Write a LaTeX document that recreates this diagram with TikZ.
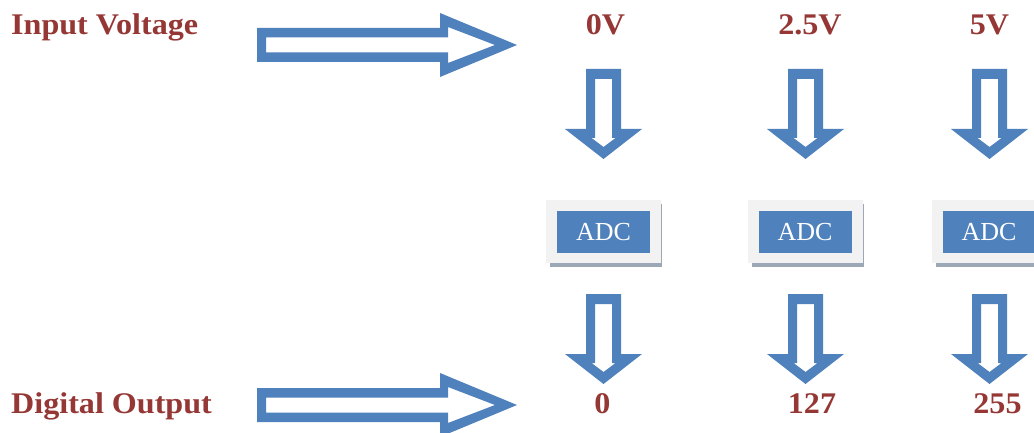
\documentclass[tikz,border=0pt]{standalone}
\usepackage{fontspec}
\setmainfont{Liberation Serif}
\newfontfamily\labelfont[FakeStretch=1.07]{Liberation Serif}
\definecolor{arrowblue}{HTML}{4F81BD}
\definecolor{labelred}{HTML}{953735}
\definecolor{framegray}{HTML}{F2F2F2}
\definecolor{shadowgray}{HTML}{9DA8B7}
\tikzset{
  label text/.style={text=labelred, font=\labelfont\fontsize{30}{36}\selectfont\bfseries, inner sep=0pt, anchor=base},
  adc frame/.style={fill=framegray, draw=none, minimum width=115pt, minimum height=63pt, inner sep=0pt},
  adc box/.style={fill=arrowblue, draw=none, text=white, minimum width=93pt, minimum height=42pt, inner sep=0pt, font=\fontsize{26}{30}\selectfont},
  % hollow block arrow pointing down, origin at the top centre of the shaft
  down arrow/.pic={
    \fill[arrowblue, even odd rule]
      (-17.5,0) -- (17.5,0) -- (17.5,60) -- (38.5,60) -- (0,90) -- (-38.5,60) -- (-17.5,60) -- cycle
      (-8.5,10) -- (8.5,10) -- (8.5,69) -- (12,69) -- (0,78) -- (-12,69) -- (-8.5,69) -- cycle;
  },
  % hollow block arrow pointing right, origin at the left centre of the shaft
  right arrow/.pic={
    \fill[arrowblue, even odd rule]
      (0,-17) -- (183,-17) -- (183,-32) -- (260,0) -- (183,32) -- (183,17) -- (0,17) -- cycle
      (9,-7.5) -- (191,-7.5) -- (191,-18) -- (238,0) -- (191,18) -- (191,7.5) -- (9,7.5) -- cycle;
  },
}
\begin{document}
\begin{tikzpicture}[x=1pt, y=-1pt]
  \useasboundingbox (0,0) rectangle (1034,433);
  \fill[white] (0,0) rectangle (1034,433);

  % row labels
  \node[label text, anchor=base west] (inlabel) at (11,35) {Input Voltage};
  \node[label text, anchor=base west] (outlabel) at (11,413) {Digital Output};

  % large arrows pointing at the value rows
  \pic at (257,45) {right arrow};
  \pic at (257,405) {right arrow};

  % input voltages
  \node[label text] (v0) at (605.5,35) {0V};
  \node[label text] (v1) at (810,35) {2.5V};
  \node[label text] (v2) at (989.5,35) {5V};

  % arrows into the converters
  \pic at (603.5,69) {down arrow};
  \pic at (805.5,69) {down arrow};
  \pic at (989.5,69) {down arrow};

  % converter blocks with frame and shadow
  \foreach \cx/\n in {603.5/a, 805/b, 989/c} {
    \fill[shadowgray] (\cx-53.5,204) rectangle (\cx+58.5,267);
    \node[adc frame] (frame\n) at (\cx,231.5) {};
    \node[adc box] (adc\n) at (\cx,232) {ADC};
  }

  % arrows out of the converters
  \pic at (603.5,294) {down arrow};
  \pic at (805.5,294) {down arrow};
  \pic at (989.5,294) {down arrow};

  % digital output values
  \node[label text] (d0) at (602.5,413) {0};
  \node[label text] (d1) at (812,413) {127};
  \node[label text] (d2) at (997.5,413) {255};
\end{tikzpicture}
\end{document}
